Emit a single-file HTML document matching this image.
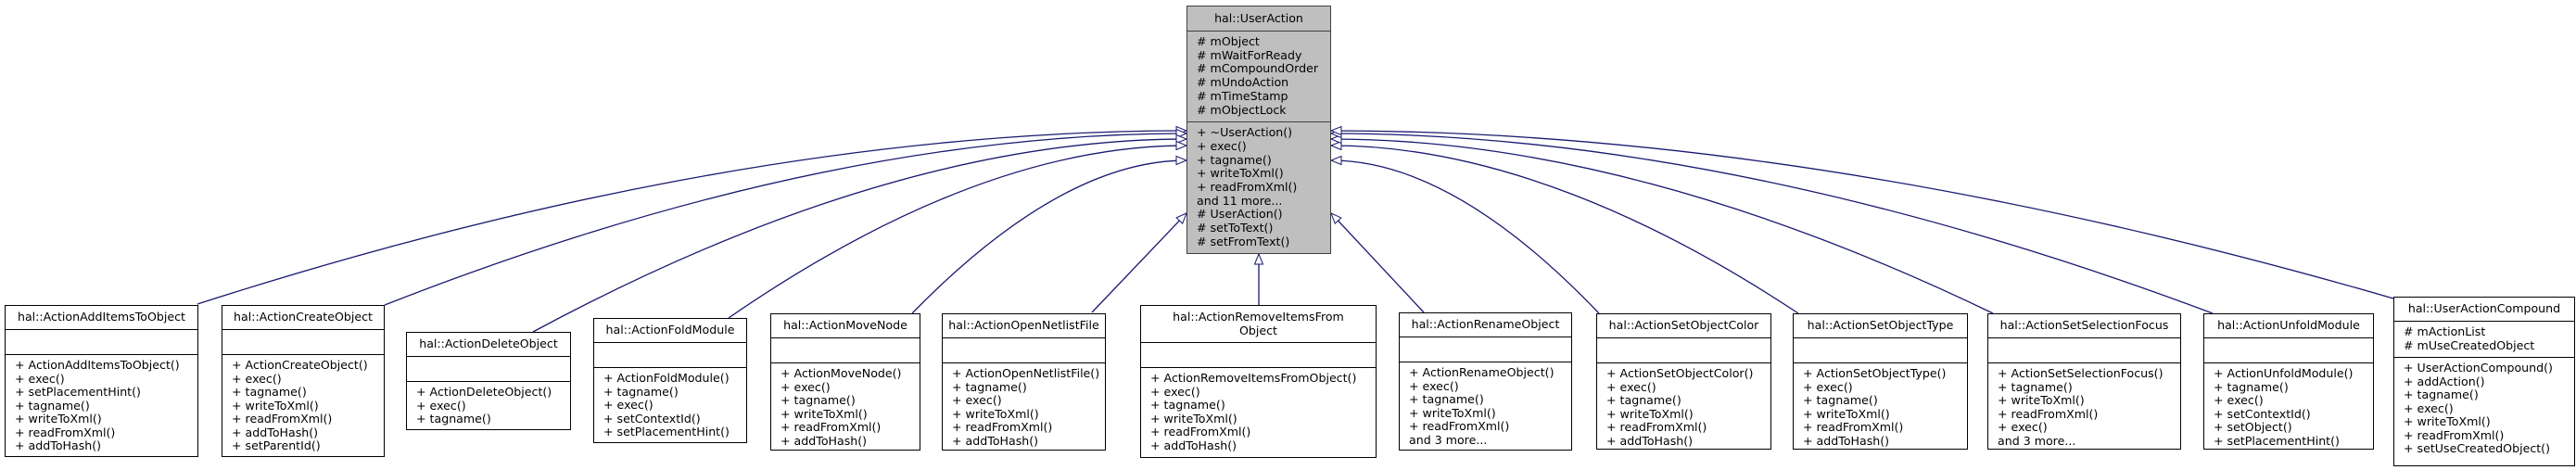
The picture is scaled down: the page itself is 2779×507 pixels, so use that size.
<!DOCTYPE html>
<html><head><meta charset="utf-8">
<style>
html,body{margin:0;padding:0;background:#fff;}
body{width:2779px;height:507px;position:relative;overflow:hidden;font-family:"DejaVu Sans","Liberation Sans",sans-serif;font-size:12.6px;color:#000;}
svg{position:absolute;left:0;top:0;}
.b{position:absolute;border:1px solid #000;background:#fff;box-sizing:border-box;white-space:nowrap;}
.t{height:25px;line-height:24px;text-align:center;border-bottom:1px solid #000;}
.t2{height:40px;line-height:15px;padding-top:4px;box-sizing:border-box;text-align:center;border-bottom:1px solid #000;}
.e{height:26px;border-bottom:1px solid #000;}
.m{padding:4px 0 0 10px;line-height:14.5px;}
.a{padding:4px 0 5px 10px;line-height:14.5px;border-bottom:1px solid #000;}
.u{background:#bfbfbf;border-color:#404040;}
.u .t,.u .a{border-color:#404040;}
.u .m,.u .a{line-height:14.7px;}
</style></head><body>
<svg width="2779" height="507" viewBox="0 0 2779 507">
<defs>
<marker id="ar" markerUnits="userSpaceOnUse" markerWidth="14" markerHeight="12" refX="12" refY="5.5" orient="auto">
<path d="M1,1 L12,5.5 L1,10 z" fill="#fff" stroke="#191970" stroke-width="1"/>
</marker>
</defs>
<g fill="none" stroke="#191970" stroke-width="1.3" marker-end="url(#ar)">
<path d="M213,328 C533,225 907,141 1280,141"/>
<path d="M415,329 C675,227 977,144 1280,144"/>
<path d="M575,358 C787,244 1033,150 1280,150"/>
<path d="M786,343 C934,241 1107,157 1280,157"/>
<path d="M984,338 C1073,247 1176,173 1280,173"/>
<path d="M1178,337 L1280,230"/>
<path d="M1358,329 L1358,274"/>
<path d="M1536,337 L1436,230"/>
<path d="M1725,338 C1638,247 1537,173 1436,173"/>
<path d="M1940,338 C1789,238 1612,157 1436,157"/>
<path d="M2150,338 C1936,235 1686,150 1436,150"/>
<path d="M2387,338 C2102,231 1769,144 1436,144"/>
<path d="M2582,322 C2238,222 1837,141 1436,141"/>
</g>
</svg>

<div class="b u" style="left:1280px;top:6px;width:156px;height:268px;">
<div class="t" style="height:26px;line-height:26px;">hal::UserAction</div>
<div class="a"># mObject<br># mWaitForReady<br># mCompoundOrder<br># mUndoAction<br># mTimeStamp<br># mObjectLock</div>
<div class="m">+ ~UserAction()<br>+ exec()<br>+ tagname()<br>+ writeToXml()<br>+ readFromXml()<br>and 11 more...<br># UserAction()<br># setToText()<br># setFromText()</div>
</div>

<div class="b" style="left:5px;top:329px;width:209px;height:164px;">
<div class="t">hal::ActionAddItemsToObject</div><div class="e"></div>
<div class="m">+ ActionAddItemsToObject()<br>+ exec()<br>+ setPlacementHint()<br>+ tagname()<br>+ writeToXml()<br>+ readFromXml()<br>+ addToHash()</div>
</div>

<div class="b" style="left:239px;top:329px;width:176px;height:164px;">
<div class="t">hal::ActionCreateObject</div><div class="e"></div>
<div class="m">+ ActionCreateObject()<br>+ exec()<br>+ tagname()<br>+ writeToXml()<br>+ readFromXml()<br>+ addToHash()<br>+ setParentId()</div>
</div>

<div class="b" style="left:438px;top:358px;width:178px;height:106px;">
<div class="t">hal::ActionDeleteObject</div><div class="e"></div>
<div class="m">+ ActionDeleteObject()<br>+ exec()<br>+ tagname()</div>
</div>

<div class="b" style="left:640px;top:343px;width:166px;height:135px;">
<div class="t">hal::ActionFoldModule</div><div class="e"></div>
<div class="m">+ ActionFoldModule()<br>+ tagname()<br>+ exec()<br>+ setContextId()<br>+ setPlacementHint()</div>
</div>

<div class="b" style="left:831px;top:338px;width:162px;height:148px;">
<div class="t">hal::ActionMoveNode</div><div class="e"></div>
<div class="m">+ ActionMoveNode()<br>+ exec()<br>+ tagname()<br>+ writeToXml()<br>+ readFromXml()<br>+ addToHash()</div>
</div>

<div class="b" style="left:1016px;top:338px;width:177px;height:148px;">
<div class="t">hal::ActionOpenNetlistFile</div><div class="e"></div>
<div class="m">+ ActionOpenNetlistFile()<br>+ tagname()<br>+ exec()<br>+ writeToXml()<br>+ readFromXml()<br>+ addToHash()</div>
</div>

<div class="b" style="left:1230px;top:329px;width:255px;height:165px;">
<div class="t2">hal::ActionRemoveItemsFrom<br>Object</div><div class="e"></div>
<div class="m">+ ActionRemoveItemsFromObject()<br>+ exec()<br>+ tagname()<br>+ writeToXml()<br>+ readFromXml()<br>+ addToHash()</div>
</div>

<div class="b" style="left:1509px;top:337px;width:187px;height:149px;">
<div class="t">hal::ActionRenameObject</div><div class="e"></div>
<div class="m">+ ActionRenameObject()<br>+ exec()<br>+ tagname()<br>+ writeToXml()<br>+ readFromXml()<br>and 3 more...</div>
</div>

<div class="b" style="left:1722px;top:338px;width:189px;height:147px;">
<div class="t">hal::ActionSetObjectColor</div><div class="e"></div>
<div class="m">+ ActionSetObjectColor()<br>+ exec()<br>+ tagname()<br>+ writeToXml()<br>+ readFromXml()<br>+ addToHash()</div>
</div>

<div class="b" style="left:1934px;top:338px;width:189px;height:147px;">
<div class="t">hal::ActionSetObjectType</div><div class="e"></div>
<div class="m">+ ActionSetObjectType()<br>+ exec()<br>+ tagname()<br>+ writeToXml()<br>+ readFromXml()<br>+ addToHash()</div>
</div>

<div class="b" style="left:2144px;top:338px;width:209px;height:147px;">
<div class="t">hal::ActionSetSelectionFocus</div><div class="e"></div>
<div class="m">+ ActionSetSelectionFocus()<br>+ tagname()<br>+ writeToXml()<br>+ readFromXml()<br>+ exec()<br>and 3 more...</div>
</div>

<div class="b" style="left:2377px;top:338px;width:184px;height:147px;">
<div class="t">hal::ActionUnfoldModule</div><div class="e"></div>
<div class="m">+ ActionUnfoldModule()<br>+ tagname()<br>+ exec()<br>+ setContextId()<br>+ setObject()<br>+ setPlacementHint()</div>
</div>

<div class="b" style="left:2582px;top:320px;width:196px;height:183px;">
<div class="t">hal::UserActionCompound</div>
<div class="a"># mActionList<br># mUseCreatedObject</div>
<div class="m">+ UserActionCompound()<br>+ addAction()<br>+ tagname()<br>+ exec()<br>+ writeToXml()<br>+ readFromXml()<br>+ setUseCreatedObject()</div>
</div>
</body></html>
